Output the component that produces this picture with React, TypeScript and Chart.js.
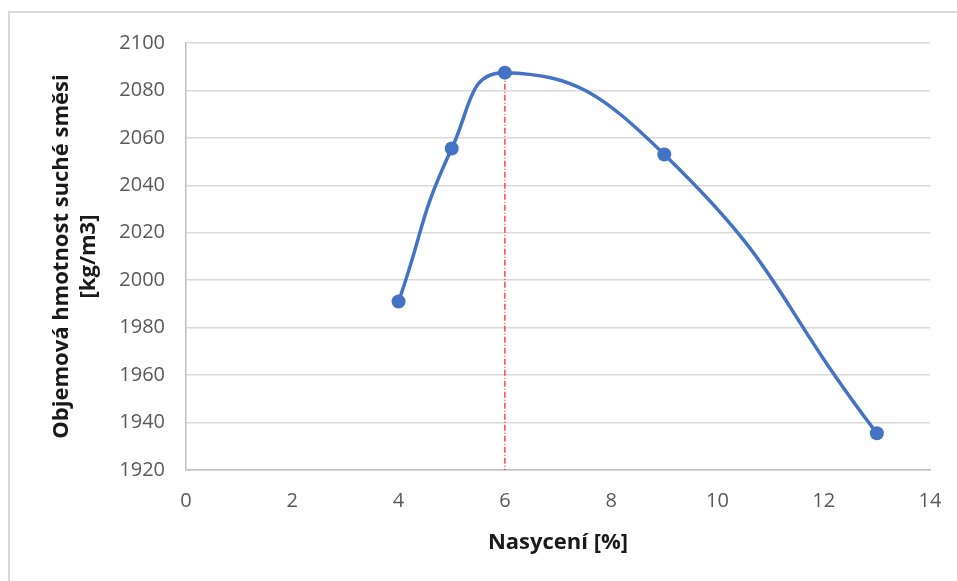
import React, { useEffect, useRef } from 'react';
import Chart from 'chart.js/auto';

const saturation = [4, 5, 6, 9, 13];
const density = [1991, 2055.5, 2087.5, 2053, 1935.5];
const markerX = [6, 6];
const markerY = [2087.5, 1920];
const xTickValues = [0, 2, 4, 6, 8, 10, 12, 14];
const yTickValues = [1920, 1940, 1960, 1980, 2000, 2020, 2040, 2060, 2080, 2100];
const xTitle = 'Nasycení [%]';
const yTitle = ['Objemová hmotnost suché směsi', '[kg/m3]'];

export default function App() {
  const ref = useRef<HTMLCanvasElement | null>(null);
  useEffect(() => {
    if (!ref.current) return;
    Chart.defaults.font.family = '"Open Sans", sans-serif';
    const chart = new Chart(ref.current, {
      type: 'scatter',
      data: {
        datasets: [
          {
            data: saturation.map((x, i) => ({ x, y: density[i] })),
            showLine: true,
            borderColor: '#4472c4',
            backgroundColor: '#4472c4',
            borderWidth: 3.5,
            tension: 0.5,
            pointRadius: 7,
            pointBorderWidth: 0,
            pointBackgroundColor: '#4472c4',
            order: 0,
          },
          {
            data: markerX.map((x, i) => ({ x, y: markerY[i] })),
            showLine: true,
            borderColor: 'rgba(255,40,40,0.85)',
            borderWidth: 1.5,
            borderDash: [6, 2, 1, 2],
            pointRadius: 0,
            order: 1,
          },
        ],
      },
      options: {
        responsive: false,
        animation: false,
        layout: { padding: { top: 43, right: 27, left: 0, bottom: 0 } },
        plugins: { legend: { display: false }, tooltip: { enabled: false } },
        scales: {
          x: {
            type: 'linear',
            min: 0,
            max: 14,
            afterBuildTicks: (s: any) => {
              s.ticks = xTickValues.map((v) => ({ value: v }));
            },
            afterFit: (s: any) => {
              s.height = 111;
              s.paddingLeft = 0;
              s.paddingRight = 0;
            },
            grid: { display: false, drawTicks: false },
            border: { display: true, color: '#bfbfbf', width: 1.5 },
            ticks: { color: '#595959', font: { size: 20 }, padding: 19, callback: (v: any) => String(v) },
            title: {
              display: true,
              text: xTitle,
              color: '#1a1a1a',
              font: { size: 22, weight: 'bold' },
              padding: { top: 0, bottom: 25 },
            },
          },
          y: {
            type: 'linear',
            min: 1920,
            max: 2100,
            afterBuildTicks: (s: any) => {
              s.ticks = yTickValues.map((v) => ({ value: v }));
            },
            afterFit: (s: any) => {
              s.width = 186;
              s.paddingTop = 0;
              s.paddingBottom = 0;
            },
            grid: { color: '#d9d9d9', lineWidth: 1.5, drawTicks: false },
            border: { display: true, color: '#bfbfbf', width: 1.5 },
            ticks: { color: '#595959', font: { size: 20 }, padding: 21, callback: (v: any) => String(v) },
            title: {
              display: true,
              text: yTitle,
              color: '#1a1a1a',
              font: { size: 22, weight: 'bold', lineHeight: 1.2 },
              padding: { top: 49, bottom: 0 },
            },
          },
        },
      },
    });
    return () => chart.destroy();
  }, []);
  return (
    <div style={{ position: 'absolute', left: 0, top: 0, width: 957, height: 581, background: '#fff', overflow: 'hidden' }}>
      <div
        style={{
          position: 'absolute',
          left: 8,
          top: 11,
          right: -10,
          bottom: -10,
          borderTop: '2px solid #d9d9d9',
          borderLeft: '2px solid #d9d9d9',
        }}
      />
      <canvas ref={ref} width={957} height={581} style={{ position: 'absolute', left: 0, top: 0 }} />
    </div>
  );
}
